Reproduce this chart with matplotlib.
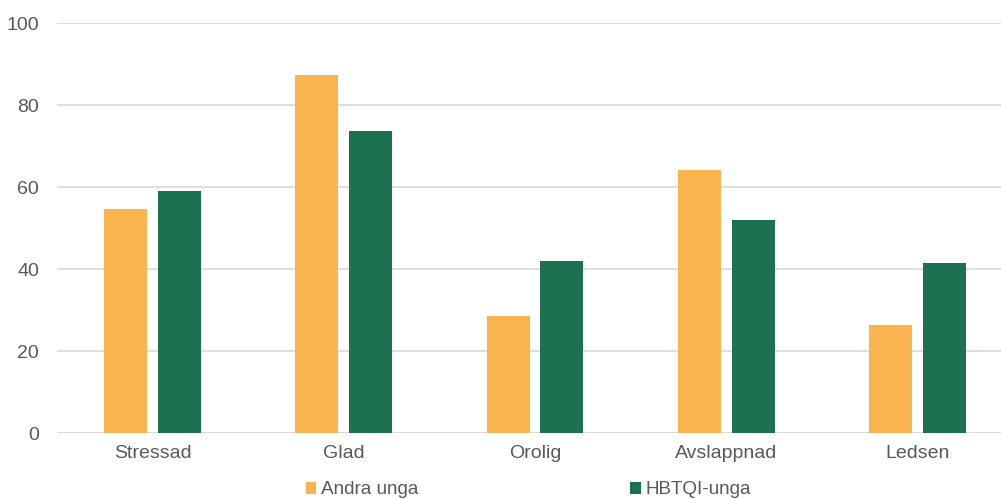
import matplotlib
matplotlib.use("Agg")
import matplotlib.pyplot as plt
import numpy as np

categories = ["Stressad", "Glad", "Orolig", "Avslappnad", "Ledsen"]
andra_unga = [54.7, 87.3, 28.6, 64.2, 26.4]
hbtqi_unga = [59.1, 73.6, 42.0, 52.0, 41.5]
series_names = ["Andra unga", "HBTQI-unga"]
yticks = [0, 20, 40, 60, 80, 100]

orange = "#F9B44F"
green = "#1C7150"
textc = "#595959"
gridc = "#D9D9D9"

plt.rcParams['font.family'] = ['Liberation Sans', 'DejaVu Sans']

fig = plt.figure(figsize=(10.01, 4.99), dpi=100)
W, H = 1001, 499
ax = fig.add_axes([57 / W, (H - 433) / H, (1013 - 57) / W, (433 - 23.3) / H])

x = np.arange(len(categories))
bw = 0.225
off = 0.141
ax.bar(x - off, andra_unga, bw, color=orange, label=series_names[0], zorder=3)
ax.bar(x + off, hbtqi_unga, bw, color=green, label=series_names[1], zorder=3)

ax.set_xlim(-0.5, len(categories) - 0.5)
ax.set_ylim(0, 100)
ax.set_yticks(yticks)
ax.set_xticks(x)
ax.set_xticklabels(categories)
ax.yaxis.grid(True, color=gridc, linewidth=1.2, zorder=0)
ax.set_axisbelow(True)
for s in ax.spines.values():
    s.set_visible(False)
ax.axhline(0, color=gridc, linewidth=1.2, zorder=2)
ax.tick_params(axis='both', length=0, labelsize=14, labelcolor=textc)
ax.tick_params(axis='y', pad=13)
ax.tick_params(axis='x', pad=9)

handles, labels = ax.get_legend_handles_labels()
leg = fig.legend(handles, labels, loc='center left', bbox_to_anchor=(306 / W, 9 / H),
                 ncol=2, frameon=False, fontsize=13.6, handlelength=0.55, handleheight=0.55,
                 handletextpad=0.27, columnspacing=11.2, borderpad=0, borderaxespad=0)
for t in leg.get_texts():
    t.set_color(textc)

fig.savefig("out.png", dpi=100)
